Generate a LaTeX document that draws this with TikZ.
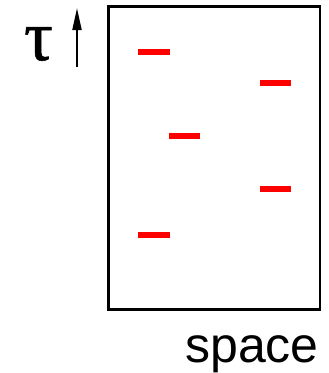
\documentclass[tikz,border=0pt]{standalone}
\usepackage{fontspec}
\setmainfont{Liberation Sans}
\newfontfamily\greekfont[FakeBold=0.8]{Liberation Serif}
\usetikzlibrary{arrows.meta}
\begin{document}
\begin{tikzpicture}[x=1pt,y=-1pt,
  frame/.style={draw=black,line width=2.5pt},
  tick/.style={draw=red,line width=6pt},
  axis/.style={draw=black,line width=2pt,-{Triangle[length=22pt,width=9pt]}}]
\useasboundingbox (0,0) rectangle (329,373);
\draw[frame] (108.5,6.5) rectangle (320,309.5);
\coordinate (a1) at (138,52); \coordinate (b1) at (169.5,52);
\coordinate (a2) at (260,83); \coordinate (b2) at (291,83);
\coordinate (a3) at (169,136); \coordinate (b3) at (199.5,136);
\coordinate (a4) at (260,189); \coordinate (b4) at (291,189);
\coordinate (a5) at (138,235); \coordinate (b5) at (169.5,235);
\foreach \i in {1,...,5} \draw[tick] (a\i) -- (b\i);
\coordinate (t0) at (77,67);
\coordinate (t1) at (77,8);
\draw[axis] (t0) -- (t1);
\node[font=\greekfont\fontsize{72}{72}\selectfont,inner sep=0pt] (tau) at (38.5,44) {τ};
\node[font=\fontsize{50}{50}\selectfont,inner sep=0pt,anchor=base east] (space) at (319,362) {space};
\end{tikzpicture}
\end{document}
